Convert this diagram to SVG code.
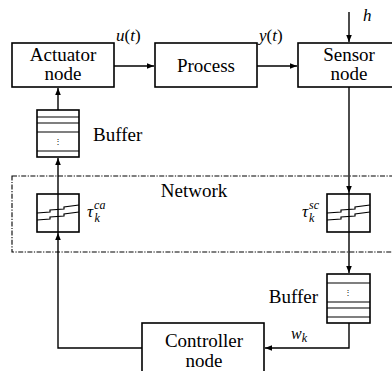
<svg xmlns="http://www.w3.org/2000/svg" width="392" height="371" viewBox="0 0 392 371">
<defs>
<marker id="ah" viewBox="0 0 10 10" refX="10" refY="5" markerWidth="7" markerHeight="7" markerUnits="userSpaceOnUse" orient="auto">
<path d="M0,1 L10,5 L0,9 z" fill="#000"/>
</marker>
</defs>
<rect x="12" y="176" width="400" height="76" fill="none" stroke="#000" stroke-width="1.1" stroke-dasharray="5 1.5 1.2 1.5"/>
<g id="connectors" fill="none" stroke="#000" stroke-width="1.4">
<line x1="114" y1="66" x2="154" y2="66" marker-end="url(#ah)"/>
<line x1="257" y1="66" x2="297" y2="66" marker-end="url(#ah)"/>
<line x1="349" y1="12" x2="349" y2="42" marker-end="url(#ah)"/>
<line x1="349" y1="87" x2="349" y2="193" marker-end="url(#ah)"/>
<line x1="349" y1="193" x2="349" y2="232"/>
<line x1="349" y1="232" x2="349" y2="273" marker-end="url(#ah)"/>
<polyline points="349,323 349,348 265,348" marker-end="url(#ah)"/>
<polyline points="142,348 58,348 58,233" marker-end="url(#ah)"/>
<line x1="58" y1="233" x2="58" y2="158" marker-end="url(#ah)"/>
<line x1="58" y1="110" x2="58" y2="88" marker-end="url(#ah)"/>
</g>
<g id="labels" font-family="Liberation Serif" font-style="italic" font-size="17" fill="#000">
<text x="116" y="41">u<tspan font-style="normal">(</tspan>t<tspan font-style="normal">)</tspan></text>
<text x="259" y="41">y<tspan font-style="normal">(</tspan>t<tspan font-style="normal">)</tspan></text>
<text x="363" y="21">h</text>
<text x="291" y="339" font-size="16">w<tspan font-size="12" dy="3">k</tspan></text>
</g>
<g font-family="Liberation Serif" font-size="19" fill="#000" stroke-width="1.6">
<g id="actuator">
<rect x="12" y="43" width="102" height="44" fill="#fff" stroke="#000"/>
<text x="63" y="61" text-anchor="middle">Actuator</text>
<text x="63" y="80" text-anchor="middle">node</text>
</g>
<g id="process">
<rect x="155" y="43" width="102" height="44" fill="#fff" stroke="#000"/>
<text x="206" y="72" text-anchor="middle">Process</text>
</g>
<g id="sensor">
<rect x="298" y="43" width="110" height="44" fill="#fff" stroke="#000"/>
<text x="349" y="61" text-anchor="middle">Sensor</text>
<text x="349" y="80" text-anchor="middle">node</text>
</g>
<g id="buffer-ca">
<rect x="37" y="110" width="42" height="47" fill="none" stroke="#000"/>
<path d="M37,117H79M37,123H79M37,132H79M37,151H79" stroke="#000" stroke-width="1.2"/>
<text x="58" y="144" font-size="8" text-anchor="middle">⋮</text>
<text x="93" y="141">Buffer</text>
</g>
<g id="network">
<text x="194" y="197" text-anchor="middle">Network</text>
</g>
<g id="delay-ca">
<rect x="37" y="194" width="42" height="38" fill="none" stroke="#000"/>
<polyline points="37,213 50,212 50,210 64,209 64,207 79,205" fill="none" stroke="#000" stroke-width="1.2"/>
<polyline points="37,220 50,219 50,217 64,216 64,214 79,212" fill="none" stroke="#000" stroke-width="1.2"/>
<text x="87" y="217" font-size="17" font-style="italic">τ<tspan font-size="12" dx="1" dy="-8">ca</tspan><tspan font-size="12" dx="-11" dy="13">k</tspan></text>
</g>
<g id="delay-sc">
<rect x="327" y="194" width="43" height="38" fill="none" stroke="#000"/>
<polyline points="327,213 341,212 341,210 355,209 355,207 370,205" fill="none" stroke="#000" stroke-width="1.2"/>
<polyline points="327,220 341,219 341,217 355,216 355,214 370,212" fill="none" stroke="#000" stroke-width="1.2"/>
<text x="302" y="217" font-size="17" font-style="italic">τ<tspan font-size="12" dx="1" dy="-8">sc</tspan><tspan font-size="12" dx="-10" dy="13">k</tspan></text>
</g>
<g id="buffer-sc">
<rect x="327" y="274" width="43" height="49" fill="none" stroke="#000"/>
<path d="M327,283H370M327,302H370M327,308H370M327,317H370" stroke="#000" stroke-width="1.2"/>
<text x="348" y="295" font-size="8" text-anchor="middle">⋮</text>
<text x="318" y="303" text-anchor="end">Buffer</text>
</g>
<g id="controller">
<rect x="142" y="323" width="122" height="60" fill="#fff" stroke="#000"/>
<text x="204" y="347" text-anchor="middle">Controller</text>
<text x="204" y="367" text-anchor="middle">node</text>
</g>
</g>
</svg>
